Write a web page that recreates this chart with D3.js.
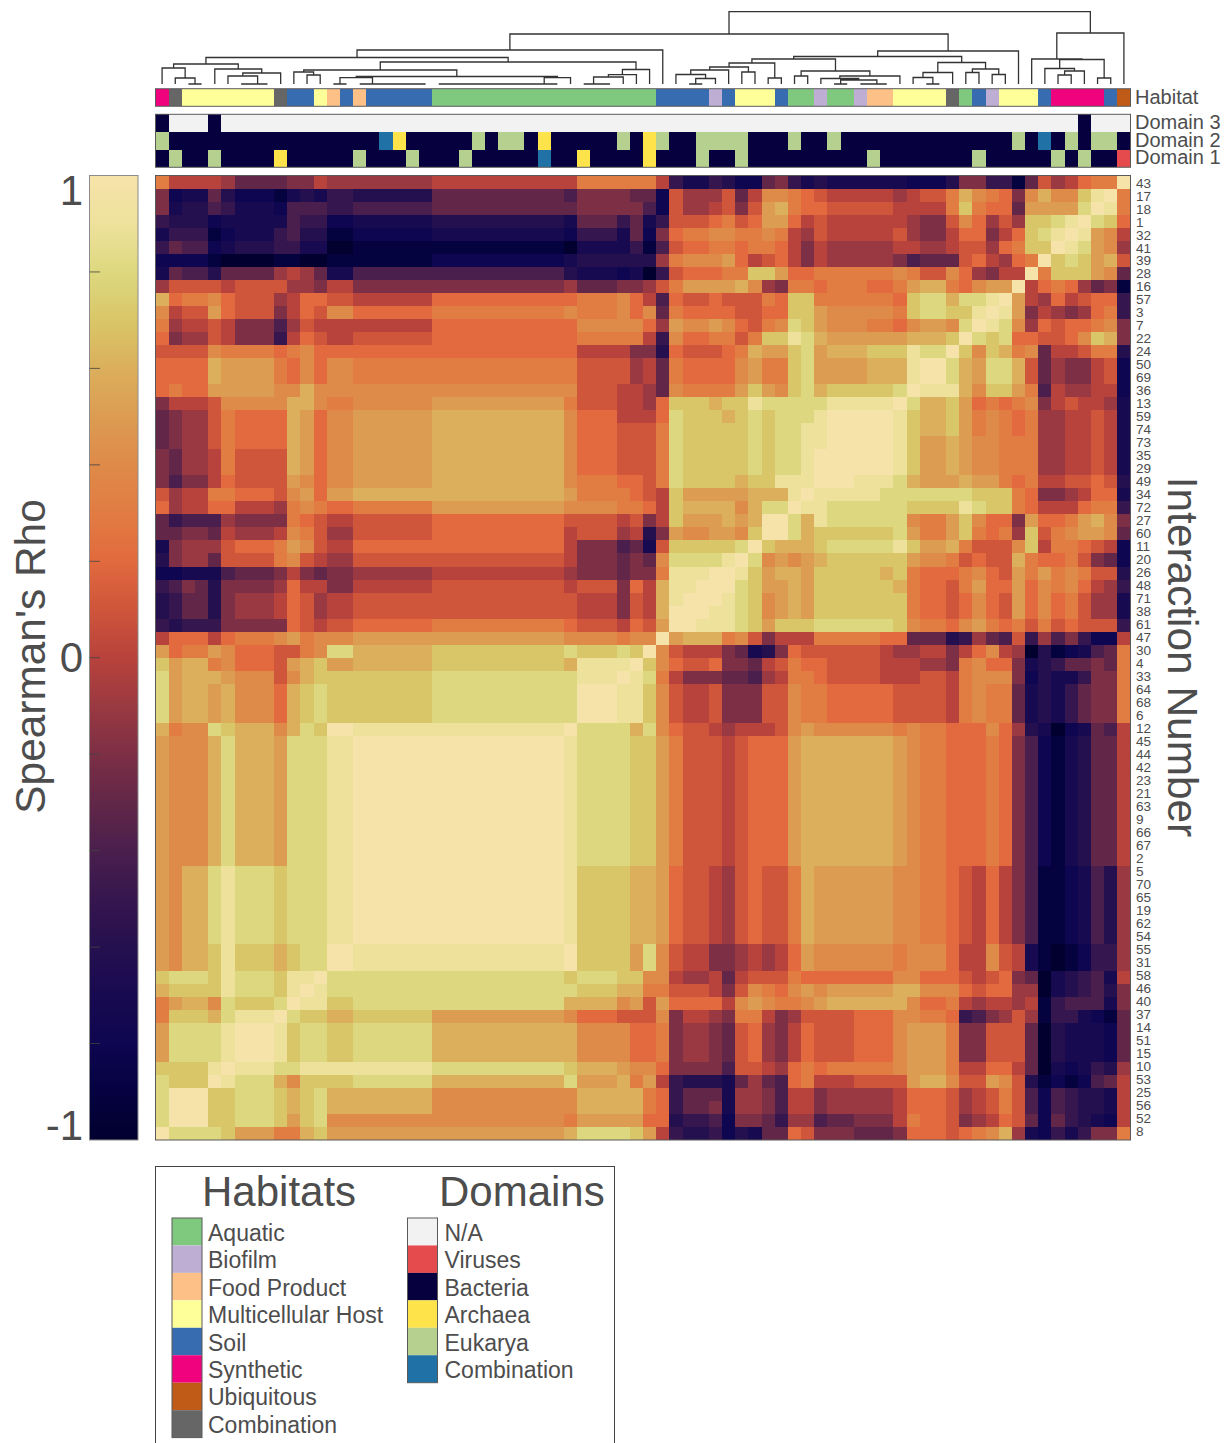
<!DOCTYPE html>
<html>
<head>
<meta charset="utf-8">
<title>Spearman's Rho heatmap</title>
<script src="https://cdn.jsdelivr.net/npm/d3@7"></script>
<style>
    html, body { margin: 0; padding: 0; background: #fff; overflow: hidden; }
    text { font-family: "Liberation Sans", Arial, sans-serif; fill: #4d4d4d; }
</style>
</head>
<body>
<div id="chart"></div>
<script>
// Interaction numbers, top to bottom. Columns run the other way round.
const interactionLabels = [ 43, 17, 18, 1, 32, 41, 39, 28, 16, 57, 3, 7, 22, 24, 50, 69, 36, 13, 59, 74,
    73, 35, 29, 49, 34, 72, 27, 60, 11, 20, 26, 48, 71, 38, 61, 47, 30, 4, 33, 64,
    68, 6, 12, 45, 44, 42, 23, 21, 63, 9, 66, 67, 2, 5, 70, 65, 19, 62, 54, 55,
    31, 58, 46, 40, 37, 14, 51, 15, 10, 53, 25, 56, 52, 8 ];

// Rho, one base-21 digit per cell: 0 = -1.0, a = 0.0, k = 1.0.
// Only the part above the anti-diagonal is kept, the rest is its mirror image.
const rhoRows = [
    'daaaa97777 88a9999999 9aaaaaaaaa aadddddda5 3354227853 4333333222 4885517b9a cddk',
    '8233742221 3435544444 4777777777 768888772b 999b7aeedc baaaaa9abb dgedc8egee hjk',
    '8344653332 6665566666 6777777777 778888862b 99ab8bfgdc cbbbbbaaaa dhdcc7ffff ik',
    '5444233333 6552233333 3444444444 437775735b bbcdbcffca baaaaaa988 bec9b9hhij k',
    '3555123335 6441122222 2333333333 325553728c ddeeddeda9 baaaaab988 acc8achijk',
    '5766234445 5330011111 1111111111 103333516b ccddcddca8 a99999aa99 abb9cdhhk',
    '2222100001 1001111111 1222222222 234444449d eeefcabca8 a999998677 7bca9cdk',
    '3766477779 a973366666 6666666666 643332305b cccddhhfcc ddddddedbb ec98aak',
    '9bbbbabbbb 998aa88888 8888888888 89777889bd ffffge98dd cdddccdfgg dceffk',
    'gcddecbbb9 accbbaaaaa accccccccc ccdddeca6c bbcbbbdchh ddddddchii giijk',
    'eabbfcbbb8 acbeeccccc cddddddddd dedddece7d ccccbbcchh feeeeedhii hhjk',
    'd9aaba8886 9baaaaaaaa accccccccc cceeeeec9f eefecbdeih feeeddceff eik',
    'c899ba8885 acbaabbbbb bccccccccc ccddddda5e ccddbdhhji gffffffggg hk',
    'bbbbeddddc decccccccc cccccccccc ccaaaa884c bbbcdgffhi fggghhhjii k',
    'ccccgffffd ceceeddddd dddddddddd ddbbbb9a7d ccccefddhi ffffgggjkk',
    'ccccgffffd ceceeddddd dddddddddd ddbbbb9a7d ccccefddhi ffffgggjk',
    'cdccfffffe egeeeeeeee eeeeeeeeee eebbbaa97e ddddfhfehi ghhhhhik',
    '8aaabeeeee ggeddeeeee efffffffff fdbbbaa9ch hhghhjiiii ijjjjjk',
    '7899bdcccc gfceefffff fggggggggg gecccaaaci hhhghihiii jkkkkk',
    '7899bdcccc gfceefffff fggggggggg gecccbbbdi hhhhhihiij jkkkk',
    '7899bdcccc gfceefffff fggggggggg gecccbbbdi hhhhhihiij jkkk',
    '8799adbbbb gfceefffff fggggggggg gecccbbbdi hhhhhihiij kkk',
    '8799adbbbb gfceefffff fggggggggg gecccbbbdi hhhhhihiij kk',
    '8688acbbbb feceefffff fggggggggg gedddccbdi hhhhghhjjj k',
    'b9aaddcccb efcffggggg gggggggggg gfddddcbah fffffgggjk',
    'c9aaccaaa9 dedccddddd dfffffffff feeeeddcah ggggegiik',
    '7566698888 dcbaabbbbb bccccccccc cbbbbab8ah fffgfgkk',
    '77887a999a edb99bbbbb bccccccccc cabbb9a48f eeffehk',
    '38999bcccd febaaccccc cccccccccc ca888673bh hhhhik',
    '48997bbbbd eba99bbbbb bbbbbbbbbb ba888787ei iiijk',
    '2233367778 a878899999 9aaaaaaaaa a9888788dj jjkk',
    '5687488889 caa88aaaaa abbbbbbbbb babbb8cagj jkk',
    '457748999a cb9aabbbbb bbbbbbbbbb bbaaa8bagj kk',
    '457748999a cb9aabbbbb bbbbbbbbbb bbaaa8bagk k',
    '5455588888 cbabbccccc cddddddddd dcbbbacbfk',
    'acccacddde fdeeefffff ffffffffff feeeedeek',
    'fcddfecccb bdeiiggggg ghhhhhhhhh hihhhihk',
    'hfggdecccb fghffggggg ghhhhhhhhh hgjjjjk',
    'ifgggfeeeb eghhhhhhhh hiiiiiiiii iijjjk',
    'ifggfgeeec ghihhhhhhh hiiiiiiiii iikkk',
    'ifggfgeeec ghihhhhhhh hiiiiiiiii iikk',
    'ifggfgeeec ghihhhhhhh hiiiiiiiii iik',
    'gdeeihggge gihkkjjjjj jjjjjjjjjj jk',
    'feeegigggf iiijjkkkkk kkkkkkkkkk k',
    'feeegigggf iiijjkkkkk kkkkkkkkkk',
    'feeegigggf iiijjkkkkk kkkkkkkkk',
    'feeegigggf iiijjkkkkk kkkkkkkk',
    'feeegigggf iiijjkkkkk kkkkkkk',
    'feeegigggf iiijjkkkkk kkkkkk',
    'feeegigggf iiijjkkkkk kkkkk',
    'feeegigggf iiijjkkkkk kkkk',
    'feeegigggf iiijjkkkkk kkk',
    'feeegigggf iiijjkkkkk kk',
    'feggijiiih iiijjkkkkk k',
    'feggijiiih iiijjkkkkk',
    'feggijiiih iiijjkkkk',
    'feggijiiih iiijjkkk',
    'feggijiiih iiijjkk',
    'feggijiiih iiijjk',
    'fegghjhhhg hiikk',
    'fegghjhhhg hiik',
    'hiiihjiiih jjk',
    'ghhhhjiiih jk',
    'dfggeihhhi k',
    'dhhhgijjjk',
    'fiiiijkkk',
    'fiiiijkk',
    'fiiiijk',
    'hhhhjk',
    'ihhhk',
    'ikkk',
    'ikk',
    'ik',
    'k'
];

const habitatNames = [ 'Aquatic', 'Biofilm', 'Food Product', 'Multicellular Host', 'Soil', 'Synthetic', 'Ubiquitous', 'Combination' ];
const habitatColours = [ '#7fc97f', '#beaed4', '#fdc086', '#ffff99', '#386cb0', '#f0027f', '#bf5b17', '#666666' ];
const domainNames = [ 'N/A', 'Viruses', 'Bacteria', 'Archaea', 'Eukarya', 'Combination' ];
const domainColours = [ '#f2f2f2', '#e54b4d', '#07003f', '#ffe34a', '#b5d08f', '#2072a6' ];

// Indexes into habitatNames, left to right.
const habitatByColumn = [ 5, 7, 3, 3, 3, 3, 3, 3, 3, 7, 4, 4, 3, 2, 4, 2, 4, 4, 4, 4,
    4, 0, 0, 0, 0, 0, 0, 0, 0, 0, 0, 0, 0, 0, 0, 0, 0, 0, 4, 4,
    4, 4, 1, 4, 3, 3, 3, 4, 0, 0, 1, 0, 0, 1, 2, 2, 3, 3, 3, 3,
    7, 0, 4, 1, 3, 3, 3, 4, 5, 5, 5, 5, 4, 6 ];

// Indexes into domainNames, left to right.
const domain3ByColumn = [ 2, 0, 0, 0, 2, 0, 0, 0, 0, 0, 0, 0, 0, 0, 0, 0, 0, 0, 0, 0,
    0, 0, 0, 0, 0, 0, 0, 0, 0, 0, 0, 0, 0, 0, 0, 0, 0, 0, 0, 0,
    0, 0, 0, 0, 0, 0, 0, 0, 0, 0, 0, 0, 0, 0, 0, 0, 0, 0, 0, 0,
    0, 0, 0, 0, 0, 0, 0, 0, 0, 0, 2, 0, 0, 0 ];
const domain2ByColumn = [ 4, 2, 2, 2, 2, 2, 2, 2, 2, 2, 2, 2, 2, 2, 2, 2, 2, 5, 3, 2,
    2, 2, 2, 2, 4, 2, 4, 4, 2, 3, 2, 2, 2, 2, 2, 4, 2, 3, 4, 2,
    2, 4, 4, 4, 4, 2, 2, 2, 4, 2, 2, 4, 2, 2, 2, 2, 2, 2, 2, 2,
    2, 2, 2, 2, 2, 4, 2, 5, 2, 4, 2, 4, 4, 2 ];
const domain1ByColumn = [ 2, 4, 2, 2, 4, 2, 2, 2, 2, 3, 2, 2, 2, 2, 2, 4, 2, 2, 2, 4,
    2, 2, 2, 4, 2, 2, 2, 2, 2, 5, 2, 2, 3, 2, 2, 2, 2, 3, 2, 2,
    2, 4, 2, 2, 4, 2, 2, 2, 2, 2, 2, 2, 2, 2, 4, 2, 2, 2, 2, 2,
    2, 2, 4, 2, 2, 2, 2, 2, 4, 2, 4, 2, 2, 1 ];
const domainStripNames = [ 'Domain 3', 'Domain 2', 'Domain 1' ];

// Colour bar, read at its tick marks.
const colourStopValues = [ -1, -0.9, -0.8, -0.7, -0.6, -0.5, -0.4, -0.3, -0.2, -0.1, 0, 0.1, 0.2, 0.3, 0.4, 0.5, 0.6, 0.7, 0.8, 0.9, 1 ];
const colourStops = [ '#01002e', '#050240', '#0e0650', '#180a50', '#25104f', '#36164e', '#4a1f4d', '#622748', '#7c2f45', '#9a3941',
    '#b8423c', '#cf553b', '#e26a3e', '#e17c43', '#de8a49', '#dc9c52', '#dbaf5c', '#d9c668', '#ddd87f', '#eee19c', '#f6e3a9' ];
const colourTicks = [ -0.8, -0.6, -0.4, -0.2, 0, 0.2, 0.4, 0.6, 0.8 ];
const colourTickLabels = [ 1, 0, -1 ];

// Dendrogram as nested [ height, left, right ], a number is a column.
const dendrogram = [ 72.3,
    [ 50,
        [ 34,
            [ 26.5,
                [ 20,
                    [ 16, 0, [ 6, 1, [ 0, 2, 3 ] ] ],
                    [ 15, 4, [ 11, [ 8, 5, [ 0, [ 0, 6, 7 ], 8 ] ], 9 ] ] ],
                [ 22,
                    [ 14,
                        [ 12, 10, [ 9, 11, 12 ] ],
                        [ 7.5,
                            [ 6.3, [ 0, 13, 14 ], [ 0, 15, [ 0, 16, [ 0, 17, [ 0, 18, [ 0, 19, 20 ] ] ] ] ] ],
                            [ 6.3,
                                [ 0, [ 0, [ 0, [ 0, [ 0, [ 0, [ 0, [ 0, [ 0, 21, 22 ], 23 ], 24 ], 25 ], 26 ], 27 ], 28 ], 29 ], 30 ],
                                31 ] ] ],
                    [ 14.5, [ 9.3, [ 7, [ 0, 32, [ 0, 33, 34 ] ], 35 ], 36 ], 37 ] ] ],
            38 ],
        [ 33,
            [ 27.5,
                [ 25,
                    [ 21,
                        [ 17,
                            [ 14, [ 9.5, 39, [ 5.5, [ 0, 40, 41 ], 42 ] ], 43 ],
                            [ 12, 44, 45 ] ],
                        [ 6, 46, 47 ] ],
                    [ 13,
                        [ 8, 48, 49 ],
                        [ 8, [ 5.5, 50, [ 4, [ 0, 51, 52 ], [ 0, [ 0, 53, 54 ], 55 ] ] ], 56 ] ] ],
                [ 21.5,
                    [ 11.5, [ 6.5, 57, [ 0, 58, 59 ] ], 60 ],
                    [ 15, [ 11.5, 61, 62 ], [ 9.5, 63, 64 ] ] ] ],
            65 ] ],
    [ 51,
        [ 25, 66, [ 24.5, [ 15.5, 67, [ 13, [ 9, 68, 69 ], 70 ] ], [ 6, 71, 72 ] ] ],
        73 ]
];

const width = 1228,
    height = 1443,
    size = interactionLabels.length,
    edgeGrey = '#5a5a5a';

const heat = { left: 155.5, right: 1130.5, top: 175.5, bottom: 1140 };

// Unpack the digits and mirror them across the anti-diagonal.
const rhoMatrix = d3.range( size ).map( () => new Array( size ) );
rhoRows.forEach( ( row, i ) => {
    row.replace( / /g, '' ).split( '' ).forEach( ( digit, j ) => {
        const rho = -1 + parseInt( digit, 21 ) * 0.1;
        rhoMatrix[i][j] = rho;
        rhoMatrix[size - 1 - j][size - 1 - i] = rho;
    } );
} );

const cells = [];
rhoMatrix.forEach( ( row, i ) => row.forEach( ( rho, j ) => cells.push( { row: i, col: j, rho: rho } ) ) );

const columns = d3.range( size );

const x = d3.scaleBand()
    .domain( columns )
    .range( [heat.left, heat.right] );

const y = d3.scaleBand()
    .domain( columns )
    .range( [heat.top, heat.bottom] );

const labelY = d3.scalePoint()
    .domain( columns )
    .range( [182.8, 1131] );

const colour = d3.scaleLinear()
    .domain( colourStopValues )
    .range( colourStops )
    .clamp( true );

const habitatColour = d3.scaleOrdinal().domain( d3.range( habitatNames.length ) ).range( habitatColours );
const domainColour = d3.scaleOrdinal().domain( d3.range( domainNames.length ) ).range( domainColours );

const svg = d3.select( '#chart' )
    .append( 'svg' )
    .attr( 'width', width )
    .attr( 'height', height )
    .attr( 'viewBox', [0, 0, width, height] )
    .style( 'display', 'block' );

// Heatmap.
svg.append( 'g' )
    .attr( 'shape-rendering', 'crispEdges' )
    .selectAll( 'rect' )
    .data( cells )
    .join( 'rect' )
        .attr( 'x', d => x( d.col ) )
        .attr( 'y', d => y( d.row ) )
        .attr( 'width', x.bandwidth() + 0.4 )
        .attr( 'height', y.bandwidth() + 0.4 )
        .attr( 'fill', d => colour( d.rho ) );

svg.append( 'rect' )
    .attr( 'x', heat.left )
    .attr( 'y', heat.top )
    .attr( 'width', heat.right - heat.left )
    .attr( 'height', heat.bottom - heat.top )
    .attr( 'fill', 'none' )
    .attr( 'stroke', edgeGrey );

svg.append( 'g' )
    .selectAll( 'text' )
    .data( interactionLabels )
    .join( 'text' )
        .text( d => d )
        .attr( 'x', 1136 )
        .attr( 'y', ( d, i ) => labelY( i ) )
        .attr( 'dy', '0.35em' )
        .attr( 'font-size', 13.6 );

// Annotation strips.
function drawStrip( values, scale, top, bottom ) {
    svg.append( 'g' )
        .attr( 'shape-rendering', 'crispEdges' )
        .selectAll( 'rect' )
        .data( values )
        .join( 'rect' )
            .attr( 'x', ( d, i ) => x( i ) )
            .attr( 'y', top )
            .attr( 'width', x.bandwidth() + 0.4 )
            .attr( 'height', bottom - top )
            .attr( 'fill', d => scale( d ) );
}

function drawStripBox( top, bottom ) {
    svg.append( 'rect' )
        .attr( 'x', heat.left )
        .attr( 'y', top )
        .attr( 'width', heat.right - heat.left )
        .attr( 'height', bottom - top )
        .attr( 'fill', 'none' )
        .attr( 'stroke', edgeGrey );
}

const stripRows = d3.scaleBand()
    .domain( domainStripNames )
    .range( [114.3, 167.3] );

drawStrip( habitatByColumn, habitatColour, 88.7, 106.3 );
drawStripBox( 88.7, 106.3 );
drawStrip( domain3ByColumn, domainColour, stripRows( 'Domain 3' ), stripRows( 'Domain 3' ) + stripRows.bandwidth() );
drawStrip( domain2ByColumn, domainColour, stripRows( 'Domain 2' ), stripRows( 'Domain 2' ) + stripRows.bandwidth() );
drawStrip( domain1ByColumn, domainColour, stripRows( 'Domain 1' ), stripRows( 'Domain 1' ) + stripRows.bandwidth() );
drawStripBox( 114.3, 167.3 );

svg.append( 'text' )
    .text( 'Habitat' )
    .attr( 'x', 1135 )
    .attr( 'y', 97 )
    .attr( 'dy', '0.35em' )
    .attr( 'font-size', 20 );

svg.append( 'g' )
    .selectAll( 'text' )
    .data( domainStripNames )
    .join( 'text' )
        .text( d => d )
        .attr( 'x', 1135 )
        .attr( 'y', d => stripRows( d ) + stripRows.bandwidth() / 2 - 1 )
        .attr( 'dy', '0.35em' )
        .attr( 'font-size', 20 );

// Dendrogram.
const dendroY = d3.scaleLinear()
    .domain( [0, 72.3] )
    .range( [84, 11.7] );

const dendroPath = d3.path();

function drawNode( node ) {
    if ( typeof node === 'number' ) {
        return { x: x( node ) + x.bandwidth() / 2, y: dendroY( 0 ) };
    }
    const left = drawNode( node[1] ),
        right = drawNode( node[2] ),
        top = dendroY( node[0] );
    dendroPath.moveTo( left.x, left.y );
    dendroPath.lineTo( left.x, top );
    dendroPath.lineTo( right.x, top );
    dendroPath.lineTo( right.x, right.y );
    return { x: ( left.x + right.x ) / 2, y: top };
}
drawNode( dendrogram );

svg.append( 'path' )
    .attr( 'd', dendroPath.toString() )
    .attr( 'fill', 'none' )
    .attr( 'stroke', '#333' )
    .attr( 'stroke-width', 1.3 );

// Colour bar.
const barY = d3.scaleLinear()
    .domain( [1, -1] )
    .range( [175.5, 1140] );

const gradient = svg.append( 'defs' )
    .append( 'linearGradient' )
    .attr( 'id', 'rhoGradient' )
    .attr( 'x1', 0 )
    .attr( 'y1', 1 )
    .attr( 'x2', 0 )
    .attr( 'y2', 0 );

gradient.selectAll( 'stop' )
    .data( colourStopValues )
    .join( 'stop' )
        .attr( 'offset', d => ( d + 1 ) / 2 )
        .attr( 'stop-color', d => colour( d ) );

svg.append( 'rect' )
    .attr( 'x', 89.5 )
    .attr( 'y', barY( 1 ) )
    .attr( 'width', 48.5 )
    .attr( 'height', barY( -1 ) - barY( 1 ) )
    .attr( 'fill', 'url(#rhoGradient)' )
    .attr( 'stroke', '#8c8c8c' );

svg.append( 'g' )
    .selectAll( 'line' )
    .data( colourTicks )
    .join( 'line' )
        .attr( 'x1', 89.5 )
        .attr( 'x2', 100 )
        .attr( 'y1', d => barY( d ) )
        .attr( 'y2', d => barY( d ) )
        .attr( 'stroke', '#444' )
        .attr( 'stroke-width', 0.8 );

svg.append( 'g' )
    .selectAll( 'text' )
    .data( colourTickLabels )
    .join( 'text' )
        .text( d => d )
        .attr( 'x', 83 )
        .attr( 'y', d => d === 1 ? 190 : d === 0 ? 657 : 1125 )
        .attr( 'dy', '0.35em' )
        .attr( 'text-anchor', 'end' )
        .attr( 'font-size', 42 );

svg.append( 'text' )
    .text( 'Spearman\'s Rho' )
    .attr( 'transform', 'translate(30,656.5) rotate(-90)' )
    .attr( 'dy', '0.35em' )
    .attr( 'text-anchor', 'middle' )
    .attr( 'font-size', 42.4 );

svg.append( 'text' )
    .text( 'Interaction Number' )
    .attr( 'transform', 'translate(1183,657) rotate(90)' )
    .attr( 'dy', '0.35em' )
    .attr( 'text-anchor', 'middle' )
    .attr( 'font-size', 42.4 );

// Legend, it runs off the bottom of the page in the original too.
svg.append( 'rect' )
    .attr( 'x', 155.5 )
    .attr( 'y', 1166.5 )
    .attr( 'width', 459 )
    .attr( 'height', 300 )
    .attr( 'fill', 'none' )
    .attr( 'stroke', '#444' );

function drawLegend( title, titleX, names, colours, swatchX, labelX ) {
    const rows = d3.scaleBand()
        .domain( names )
        .range( [1218, 1218 + 27.45 * names.length] );

    svg.append( 'text' )
        .text( title )
        .attr( 'x', titleX )
        .attr( 'y', 1206 )
        .attr( 'font-size', 42 );

    svg.append( 'g' )
        .selectAll( 'rect' )
        .data( names )
        .join( 'rect' )
            .attr( 'x', swatchX )
            .attr( 'y', d => rows( d ) )
            .attr( 'width', 30 )
            .attr( 'height', rows.bandwidth() )
            .attr( 'fill', ( d, i ) => colours[i] );

    svg.append( 'rect' )
        .attr( 'x', swatchX )
        .attr( 'y', 1218 )
        .attr( 'width', 30 )
        .attr( 'height', 27.45 * names.length )
        .attr( 'fill', 'none' )
        .attr( 'stroke', edgeGrey );

    svg.append( 'g' )
        .selectAll( 'text' )
        .data( names )
        .join( 'text' )
            .text( d => d )
            .attr( 'x', labelX )
            .attr( 'y', d => rows( d ) + rows.bandwidth() / 2 + 1 )
            .attr( 'dy', '0.35em' )
            .attr( 'font-size', 23 );
}

drawLegend( 'Habitats', 202, habitatNames, habitatColours, 172, 208 );
drawLegend( 'Domains', 439, domainNames, domainColours, 407.5, 444.5 );
</script>
</body>
</html>
